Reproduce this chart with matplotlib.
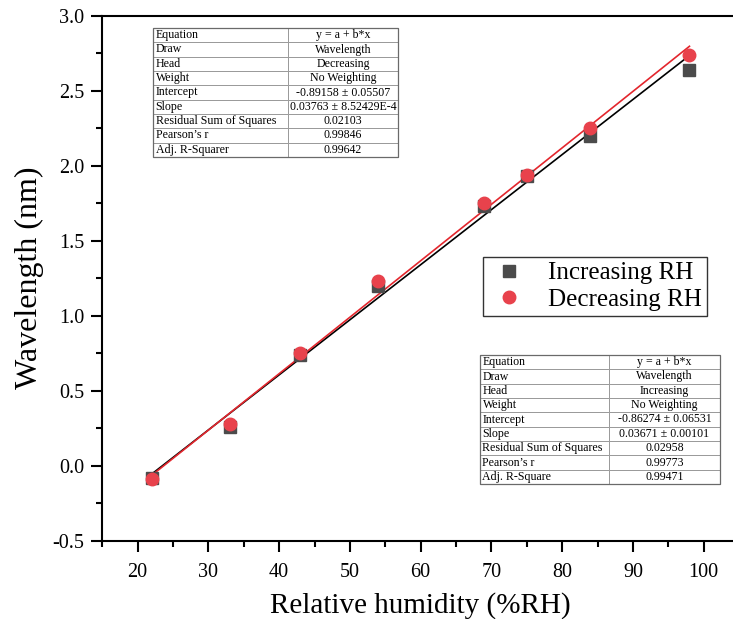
import numpy as np
import matplotlib.pyplot as plt
from matplotlib.patches import Rectangle
from matplotlib.lines import Line2D

plt.rcParams['font.family'] = ['Liberation Serif', 'DejaVu Serif']

# humidity steps and measured wavelength shift
rh = [22, 33, 43, 54, 69, 75, 84, 98]
wl_increasing = [-0.08, 0.26, 0.74, 1.20, 1.73, 1.93, 2.20, 2.64]
wl_decreasing = [-0.09, 0.28, 0.75, 1.23, 1.75, 1.94, 2.25, 2.74]

# linear fits (intercept, slope)
fit_increasing = (-0.86274, 0.03671)
fit_decreasing = (-0.89158, 0.03763)

table_labels = ["Equation", "Draw", "Head", "Weight", "Intercept", "Slope",
                "Residual Sum of Squares", "Pearson\u2019s r"]
table_decreasing = ["y = a + b*x", "Wavelength", "Decreasing", "No Weighting",
                    "-0.89158 \u00b1 0.05507", "0.03763 \u00b1 8.52429E-4",
                    "0.02103", "0.99846", "0.99642"]
table_increasing = ["y = a + b*x", "Wavelength", "Increasing", "No Weighting",
                    "-0.86274 \u00b1 0.06531", "0.03671 \u00b1 0.00101",
                    "0.02958", "0.99773", "0.99471"]

W, H = 733, 619
fig = plt.figure(figsize=(W / 100, H / 100), dpi=100)
ax = fig.add_axes([102.3 / W, 1 - 540.7 / H, (739 - 102.3) / W, (540.7 - 15.7) / H])

xfit = np.array([rh[0], rh[-1]])
ax.plot(xfit, fit_increasing[0] + fit_increasing[1] * xfit, color='black', lw=1.2, zorder=2)
ax.plot(xfit, fit_decreasing[0] + fit_decreasing[1] * xfit, color='#e3262d', lw=1.2, zorder=2)
ax.plot(rh, wl_increasing, 's', color='#4b4b4b', ms=8, mec='#4b4b4b', zorder=3)
ax.plot(rh, wl_decreasing, 'o', color='#e8424c', ms=9, mec='#e8424c', zorder=4)

ax.set_xlim(15, 105)
ax.set_ylim(-0.5, 3.0)
ax.set_xticks(np.arange(20, 101, 10))
ax.set_xticks(np.arange(15, 105, 5), minor=True)
ax.set_yticks(np.arange(-0.5, 3.01, 0.5))
ax.set_yticks(np.arange(-0.5, 3.01, 0.25), minor=True)
ax.yaxis.set_major_formatter(plt.FormatStrFormatter('%.1f'))
ax.tick_params(which='major', direction='out', length=8, width=1.5, labelsize=14.5, pad=5)
ax.tick_params(axis='x', which='major', pad=8)
ax.tick_params(which='minor', direction='out', length=4.5, width=1.5)
ax.tick_params(top=False, right=False, which='both')
for side in ['left', 'bottom', 'top']:
    ax.spines[side].set_linewidth(1.5)
ax.spines['right'].set_visible(False)

ax.set_xlabel('Relative humidity (%RH)', fontsize=21, labelpad=7)
ax.set_ylabel('Wavelength (nm)', fontsize=23, labelpad=6)

handles = [Line2D([], [], ls='none', marker='s', color='#4b4b4b', ms=8),
           Line2D([], [], ls='none', marker='o', color='#e8424c', ms=9)]
leg = ax.legend(handles, ['Increasing RH', 'Decreasing RH'], loc='upper left',
                bbox_to_anchor=(483 / W, 1 - 257 / H), bbox_transform=fig.transFigure,
                fontsize=18, fancybox=False, framealpha=1, edgecolor='#333333',
                handletextpad=0.7, labelspacing=0.15, borderpad=0.2, handlelength=1.7,
                borderaxespad=0)
leg.get_frame().set_linewidth(1.0)


def draw_table(labels, values, left, top, right, bottom, split):
    n = len(values)
    h = (bottom - top) / n
    for i in range(n):
        y0 = top + i * h
        for a, b in [(left, split), (split, right)]:
            fig.add_artist(Rectangle((a / W, 1 - (y0 + h) / H), (b - a) / W, h / H,
                                     transform=fig.transFigure, facecolor='white',
                                     edgecolor='#9a9a9a', lw=0.7))
        yc = 1 - (y0 + h / 2) / H
        fig.text((left + 2.5) / W, yc, labels[i], ha='left', va='center', fontsize=8.6)
        fig.text((split + right) / 2 / W, yc, values[i], ha='center', va='center', fontsize=8.6)
    fig.add_artist(Rectangle((left / W, 1 - bottom / H), (right - left) / W, (bottom - top) / H,
                             transform=fig.transFigure, fill=False, edgecolor='#6a6a6a', lw=0.9))


draw_table(table_labels + ["Adj. R-Squarer"], table_decreasing, 153, 28, 398, 157, 288)
draw_table(table_labels + ["Adj. R-Square"], table_increasing, 480, 355, 720, 484, 609)

fig.savefig('out.png', dpi=100)
